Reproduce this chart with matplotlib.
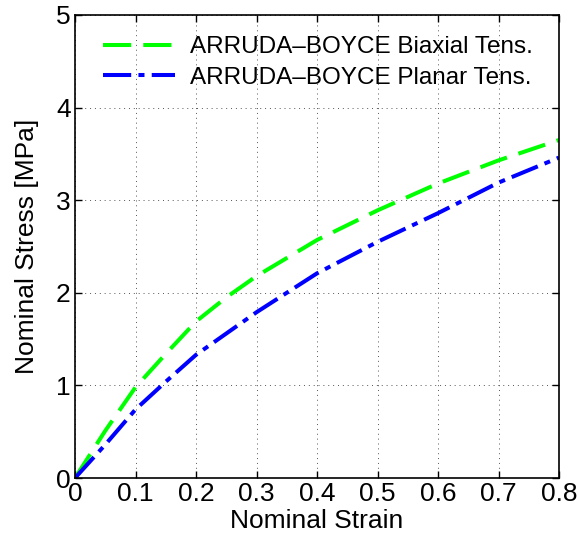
import matplotlib
matplotlib.use("Agg")
import matplotlib.pyplot as plt

strain = [0.0, 0.05, 0.1, 0.15, 0.2, 0.25, 0.3, 0.4, 0.5, 0.6, 0.7, 0.8]
biaxial = [0.0, 0.51, 0.98, 1.34, 1.69, 1.95, 2.18, 2.57, 2.89, 3.18, 3.43, 3.65]
planar = [0.0, 0.36, 0.74, 1.04, 1.33, 1.56, 1.79, 2.21, 2.55, 2.86, 3.19, 3.46]
labels = ["ARRUDA\u2013BOYCE Biaxial Tens.", "ARRUDA\u2013BOYCE Planar Tens."]
xticks = [0, 0.1, 0.2, 0.3, 0.4, 0.5, 0.6, 0.7, 0.8]
xticklabels = ["0", "0.1", "0.2", "0.3", "0.4", "0.5", "0.6", "0.7", "0.8"]
yticks = [0, 1, 2, 3, 4, 5]

plt.rcParams['font.family'] = ['Liberation Sans', 'DejaVu Sans']
fig = plt.figure(figsize=(5.79, 5.48), dpi=100)
ax = fig.add_axes([75/579, 1-478/548, 484/579, 463/548])

lw = 2.9
ax.plot(strain, biaxial, color='#00ff00', lw=lw, dashes=(7, 3), label=labels[0])
ax.plot(strain, planar, color='#0000ff', lw=lw, dashes=(7, 1.8, 1.5, 1.8), label=labels[1])

ax.set_xlim(0, 0.8)
ax.set_ylim(0, 5)
ax.set_xticks(xticks)
ax.set_xticklabels(xticklabels)
ax.set_yticks(yticks)
ax.tick_params(direction='in', length=5, width=1, top=True, right=True, labelsize=19, pad=3)
ax.grid(True, linestyle=(0, (1, 4)), color='#555555', linewidth=0.7)
for s in ax.spines.values():
    s.set_linewidth(1.2)
ax.set_xlabel("Nominal Strain", fontsize=19, labelpad=2)
ax.set_ylabel("Nominal Stress [MPa]", fontsize=19, labelpad=12)
leg = ax.legend(loc='upper left', frameon=False, fontsize=17.5, handlelength=2.96,
                handletextpad=0.6, borderaxespad=0, borderpad=0,
                bbox_to_anchor=((103-75)/484, (478-36)/463),
                labelspacing=0.36)

fig.savefig("out.png", dpi=100)
